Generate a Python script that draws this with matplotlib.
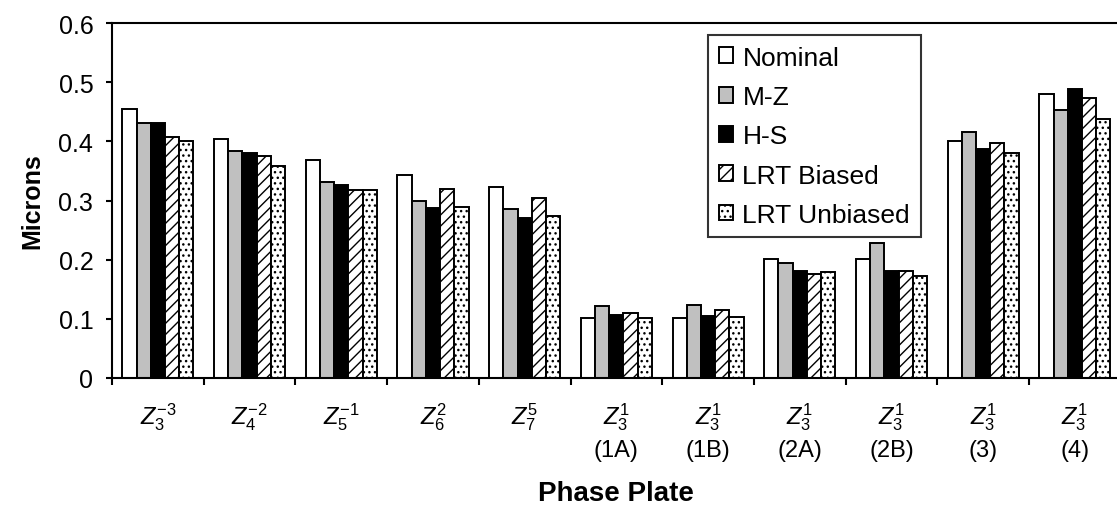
import numpy as np
import matplotlib
matplotlib.use("Agg")
import matplotlib.pyplot as plt

plt.rcParams['font.family'] = ['Liberation Sans', 'DejaVu Sans']
plt.rcParams['mathtext.fontset'] = 'custom'
plt.rcParams['mathtext.rm'] = 'Liberation Sans'
plt.rcParams['mathtext.it'] = 'Liberation Sans:italic'
plt.rcParams['hatch.linewidth'] = 1.0

groups = [r"$Z_3^{-3}$", r"$Z_4^{-2}$", r"$Z_5^{-1}$", r"$Z_6^{2}$", r"$Z_7^{5}$",
          "$Z_3^{1}$\n(1A)", "$Z_3^{1}$\n(1B)", "$Z_3^{1}$\n(2A)", "$Z_3^{1}$\n(2B)",
          "$Z_3^{1}$\n(3)", "$Z_3^{1}$\n(4)"]
series = ["Nominal", "M-Z", "H-S", "LRT Biased", "LRT Unbiased"]

nominal = [0.455, 0.404, 0.368, 0.343, 0.322, 0.102, 0.102, 0.201, 0.201, 0.401, 0.480]
mz = [0.431, 0.383, 0.331, 0.299, 0.286, 0.122, 0.124, 0.195, 0.228, 0.415, 0.453]
hs = [0.431, 0.381, 0.326, 0.287, 0.270, 0.106, 0.105, 0.181, 0.181, 0.387, 0.488]
lrt_biased = [0.407, 0.376, 0.318, 0.319, 0.304, 0.109, 0.115, 0.176, 0.180, 0.398, 0.473]
lrt_unbiased = [0.401, 0.359, 0.317, 0.289, 0.274, 0.102, 0.103, 0.179, 0.173, 0.381, 0.437]

values = [nominal, mz, hs, lrt_biased, lrt_unbiased]
styles = [dict(color="white", hatch=None),
          dict(color="#c0c0c0", hatch=None),
          dict(color="black", hatch=None),
          dict(color="white", hatch="///"),
          dict(color="white", hatch="...")]

fig = plt.figure(figsize=(11.17, 5.10), dpi=100)
ax = fig.add_axes([0.1003, 0.2569, 0.903, 0.696])

x = np.arange(len(groups))
bw = 0.155
for i, (vals, st) in enumerate(zip(values, styles)):
    ax.bar(x + (i - 2) * bw, vals, width=bw, color=st["color"], hatch=st["hatch"],
           edgecolor="black", linewidth=1.4, label=series[i])

ax.set_xlim(-0.5, len(groups) - 0.5)
ax.set_ylim(0, 0.6)
ax.set_yticks(np.arange(0, 0.61, 0.1))
ax.set_yticklabels(["0", "0.1", "0.2", "0.3", "0.4", "0.5", "0.6"], fontsize=18)

ax.set_xticks(np.arange(-0.5, len(groups), 1.0))
ax.set_xticklabels([])
ax.set_xticks(x, minor=True)
ax.set_xticklabels(groups, minor=True, fontsize=17, linespacing=1.4, va="top")
ax.tick_params(axis="x", which="minor", length=0, pad=16)
ax.tick_params(axis="x", which="major", direction="out", length=5, width=1.5)
ax.tick_params(axis="y", direction="out", length=4.5, width=1.5, pad=9)

for s in ax.spines.values():
    s.set_linewidth(1.5)

ax.set_ylabel("Microns", fontsize=18, fontweight="bold", labelpad=10)
ax.set_xlabel("Phase Plate", fontsize=20, fontweight="bold", labelpad=14)

leg = ax.legend(loc="upper left", bbox_to_anchor=(0.591, 0.966), fontsize=19,
                frameon=True, fancybox=False, edgecolor="black",
                handlelength=0.55, handleheight=0.55, handletextpad=0.35,
                labelspacing=0.58, borderpad=0.4, borderaxespad=0)
leg.get_frame().set_linewidth(1.5)

fig.savefig("out.png", dpi=100)
